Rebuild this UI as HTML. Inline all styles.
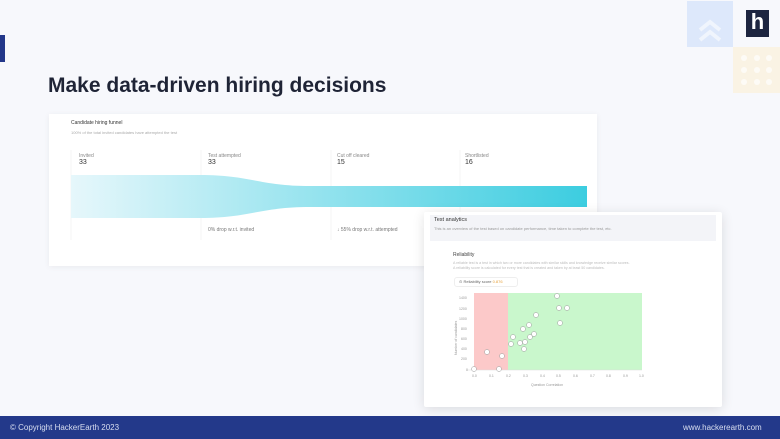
<!DOCTYPE html>
<html><head><meta charset="utf-8"><style>
body{margin:0;width:780px;height:439px;overflow:hidden;background:#f7f8fc;font-family:"Liberation Sans",sans-serif;position:relative}
.abs{position:absolute}
</style></head><body>
<div class="abs" style="left:0;top:35px;width:5px;height:27px;background:#23378a"></div>
<div class="abs" style="left:48px;top:74px;font-size:21px;font-weight:bold;color:#1f2436">Make data-driven hiring decisions</div>
<div class="abs" style="left:687px;top:1px;width:46px;height:46px;background:#dde8fb"></div>
<div class="abs" style="left:733px;top:47px;width:47px;height:46px;background:#faf3e4"></div>
<div class="abs" style="left:746px;top:10px;width:23px;height:27px;background:#1d2540;color:#fff;font-size:22px;font-weight:bold;text-align:center;line-height:24px">h</div>
<svg class="abs" style="left:0;top:0" width="780" height="439">
<polyline points="700,30 710,22 720,30" fill="none" stroke="#f0f5fd" stroke-width="4"/>
<polyline points="700,40 710,32 720,40" fill="none" stroke="#f0f5fd" stroke-width="4"/>
<g fill="#fff" opacity="0.7"><circle cx="744" cy="58" r="3"/><circle cx="757" cy="58" r="3"/><circle cx="769" cy="58" r="3"/><circle cx="744" cy="70" r="3"/><circle cx="757" cy="70" r="3"/><circle cx="769" cy="70" r="3"/><circle cx="744" cy="82" r="3"/><circle cx="757" cy="82" r="3"/><circle cx="769" cy="82" r="3"/></g>
</svg>
<!-- funnel card -->
<div class="abs" style="left:49px;top:114px;width:548px;height:152px;background:#fff;box-shadow:0 1px 6px rgba(0,0,0,0.06)"></div>
<div class="abs" style="left:71px;top:120px;font-size:5px;color:#333">Candidate hiring funnel</div>
<div class="abs" style="left:71px;top:130px;font-size:4px;color:#aaa">100% of the total invited candidates have attempted the test</div>
<svg class="abs" style="left:0;top:0" width="780" height="439">
<defs><linearGradient id="g" x1="0" x2="1"><stop offset="0" stop-color="#e6f7fb"/><stop offset="1" stop-color="#3ccde0"/></linearGradient></defs>
<g stroke="#eee" stroke-width="0.6"><line x1="71" y1="150" x2="71" y2="240"/><line x1="201" y1="150" x2="201" y2="240"/><line x1="331" y1="150" x2="331" y2="240"/><line x1="460" y1="150" x2="460" y2="240"/></g>
<path d="M71,175 L200,175 C250,175 260,186 310,186 L587,186 L587,207 L310,207 C260,207 250,218 200,218 L71,218 Z" fill="url(#g)"/>
</svg>
<div class="abs" style="left:79px;top:153px;font-size:5px;color:#888">Invited<br><span style="font-size:7px;color:#333">33</span></div>
<div class="abs" style="left:208px;top:153px;font-size:5px;color:#888">Test attempted<br><span style="font-size:7px;color:#333">33</span></div>
<div class="abs" style="left:337px;top:153px;font-size:5px;color:#888">Cut off cleared<br><span style="font-size:7px;color:#333">15</span></div>
<div class="abs" style="left:465px;top:153px;font-size:5px;color:#888">Shortlisted<br><span style="font-size:7px;color:#333">16</span></div>
<div class="abs" style="left:208px;top:227px;font-size:5px;color:#777">0% drop w.r.t. invited</div>
<div class="abs" style="left:337px;top:227px;font-size:5px;color:#777">↓ 55% drop w.r.t. attempted</div>
<!-- analytics card -->
<div class="abs" style="left:424px;top:212px;width:298px;height:195px;background:#fff;box-shadow:0 2px 12px rgba(0,0,0,0.12);border-radius:2px"></div>
<div class="abs" style="left:430px;top:215px;width:286px;height:26px;background:#f3f4f8"></div>
<div class="abs" style="left:434px;top:217px;font-size:5.5px;color:#333">Test analytics</div>
<div class="abs" style="left:434px;top:226px;font-size:4px;color:#999">This is an overview of the test based on candidate performance, time taken to complete the test, etc.</div>
<div class="abs" style="left:453px;top:252px;font-size:5px;color:#444">Reliability</div>
<div class="abs" style="left:453px;top:261px;font-size:3.6px;color:#bbb;line-height:5px">A reliable test is a test in which two or more candidates with similar skills and knowledge receive similar scores.<br>A reliability score is calculated for every test that is created and taken by at least 50 candidates.</div>
<div class="abs" style="left:454px;top:277px;width:58px;height:8px;border:1px solid #eee;border-radius:3px;font-size:4px;color:#666;line-height:8px;padding-left:4px">⊙ Reliability score <span style="color:#e6a23c">0.876</span></div>
<svg class="abs" style="left:0;top:0" width="780" height="439">
<rect x="474" y="293" width="34" height="77" fill="#fcc9c9"/>
<rect x="508" y="293" width="134" height="77" fill="#c9f7cc"/>
<line x1="466" y1="370" x2="642" y2="370" stroke="#ddd" stroke-width="0.5"/>
<g font-size="3.5" fill="#999" font-family="Liberation Sans">
<text x="459" y="299">1400</text><text x="459" y="310">1200</text><text x="459" y="320">1000</text><text x="461" y="330">800</text><text x="461" y="340">600</text><text x="461" y="350">400</text><text x="461" y="360">200</text><text x="466" y="371">0</text>
<text x="472" y="377">0.0</text><text x="489" y="377">0.1</text><text x="506" y="377">0.2</text><text x="523" y="377">0.3</text><text x="540" y="377">0.4</text><text x="556" y="377">0.5</text><text x="573" y="377">0.6</text><text x="590" y="377">0.7</text><text x="606" y="377">0.8</text><text x="623" y="377">0.9</text><text x="639" y="377">1.0</text>
<text x="531" y="386">Question Correlation</text>
<text transform="translate(457,355) rotate(-90)">Number of candidates</text>
</g>
<g fill="#fff" stroke="#999" stroke-width="0.5">
<circle cx="474" cy="369" r="2.5"/><circle cx="487" cy="352" r="2.5"/><circle cx="499" cy="369" r="2.5"/><circle cx="502" cy="356" r="2.5"/>
<circle cx="511" cy="344" r="2.5"/><circle cx="513" cy="337" r="2.5"/><circle cx="520" cy="343" r="2.5"/><circle cx="524" cy="349" r="2.5"/><circle cx="525" cy="342" r="2.5"/><circle cx="523" cy="329" r="2.5"/><circle cx="529" cy="325" r="2.5"/><circle cx="530" cy="337" r="2.5"/><circle cx="534" cy="334" r="2.5"/><circle cx="536" cy="315" r="2.5"/>
<circle cx="557" cy="296" r="2.5"/><circle cx="559" cy="308" r="2.5"/><circle cx="567" cy="308" r="2.5"/><circle cx="560" cy="323" r="2.5"/>
</g>
</svg>
<div class="abs" style="left:0;top:416px;width:780px;height:23px;background:#23398a"></div>
<div class="abs" style="left:10px;top:423px;font-size:8px;color:#d8def0">© Copyright HackerEarth 2023</div>
<div class="abs" style="left:683px;top:423px;font-size:8px;color:#d8def0">www.hackerearth.com</div>
</body></html>
